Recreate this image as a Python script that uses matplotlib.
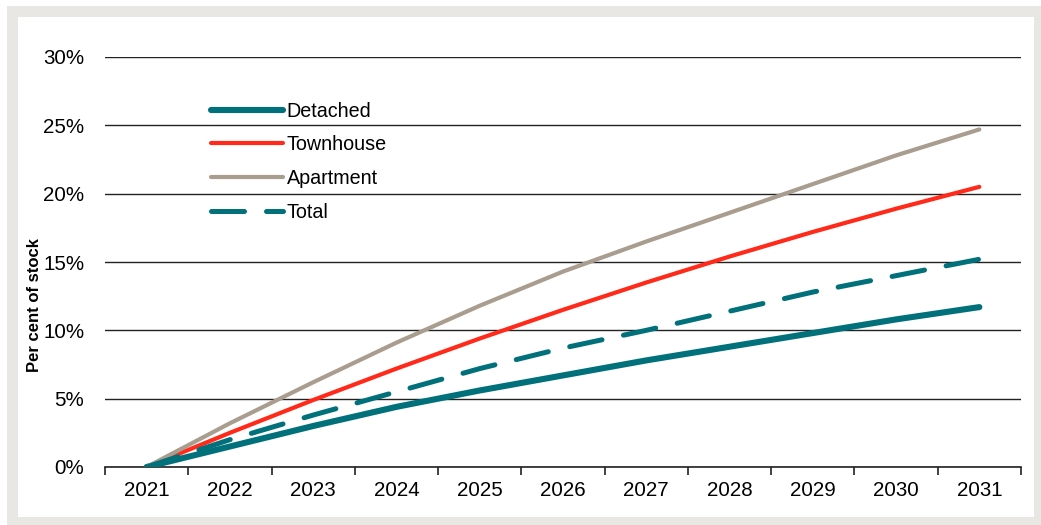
import numpy as np
import matplotlib.pyplot as plt
from matplotlib.patches import Rectangle

years = ['2021', '2022', '2023', '2024', '2025', '2026', '2027', '2028', '2029', '2030', '2031']
detached = [0, 1.5, 3.0, 4.4, 5.6, 6.7, 7.8, 8.8, 9.8, 10.8, 11.7]
townhouse = [0, 2.5, 4.9, 7.2, 9.4, 11.5, 13.5, 15.4, 17.2, 18.9, 20.5]
apartment = [0, 3.2, 6.2, 9.1, 11.8, 14.3, 16.5, 18.6, 20.7, 22.8, 24.7]
total = [0, 2.0, 3.8, 5.5, 7.2, 8.7, 10.0, 11.4, 12.8, 14.0, 15.2]

teal = '#00707A'
red = '#FF2A1A'
taupe = '#A89D8E'

plt.rcParams['font.family'] = ['Liberation Sans', 'DejaVu Sans']

W, H = 1041, 525
fig = plt.figure(figsize=(W/100, H/100), dpi=100)
fig.patch.set_facecolor('white')
# grey frame
fig.add_artist(Rectangle((7/W, 0), (W-7)/W, (H-6)/H, transform=fig.transFigure,
                         facecolor='#E8E7E3', edgecolor='none', zorder=-2))
fig.add_artist(Rectangle((18/W, (H-517)/H), (1034-18)/W, (517-17)/H, transform=fig.transFigure,
                         facecolor='white', edgecolor='none', zorder=-1))

ax = fig.add_axes([105/W, (H-467)/H, (1021-105)/W, (467-57)/H])
ax.set_facecolor('none')
x = np.arange(len(years))

ax.plot(x, detached, color=teal, lw=4.4, solid_capstyle='round', label='Detached', zorder=3)
ax.plot(x, townhouse, color=red, lw=3.0, solid_capstyle='round', label='Townhouse', zorder=3)
ax.plot(x, apartment, color=taupe, lw=3.0, solid_capstyle='round', label='Apartment', zorder=3)
ax.plot(x, total, color=teal, lw=3.6, dashes=(6.6, 4.4), dash_capstyle='round',
        label='Total', zorder=3)

ax.set_xlim(-0.5, len(years) - 0.5)
ax.set_ylim(0, 30)
ax.set_yticks(np.arange(0, 31, 5))
ax.set_yticklabels([f'{v}%' for v in range(0, 31, 5)])
ax.yaxis.grid(True, color='#222222', lw=1.0)
ax.set_axisbelow(True)
ax.tick_params(axis='y', length=0, labelsize=14.8, pad=15)

ax.set_xticks(x)
ax.set_xticklabels(years)
ax.set_xticks(np.arange(-0.5, len(years), 1), minor=True)
ax.tick_params(axis='x', which='major', length=0, labelsize=14.8, pad=10)
ax.tick_params(axis='x', which='minor', length=6, width=1.2, color='#222222', direction='out')

for s in ['top', 'right', 'left']:
    ax.spines[s].set_visible(False)
ax.spines['bottom'].set_color('#222222')
ax.spines['bottom'].set_linewidth(1.2)

ax.set_ylabel('Per cent of stock', fontsize=12, fontweight='bold')
ax.yaxis.set_label_coords(-0.069, 0.395)

leg = ax.legend(loc='upper left', bbox_to_anchor=(0.107, 0.91), frameon=False,
                fontsize=14.2, handlelength=3.65, handletextpad=0.2, labelspacing=0.74,
                borderaxespad=0)
for h in leg.get_lines():
    h.set_solid_capstyle('round')

fig.savefig('out.png', dpi=100)
